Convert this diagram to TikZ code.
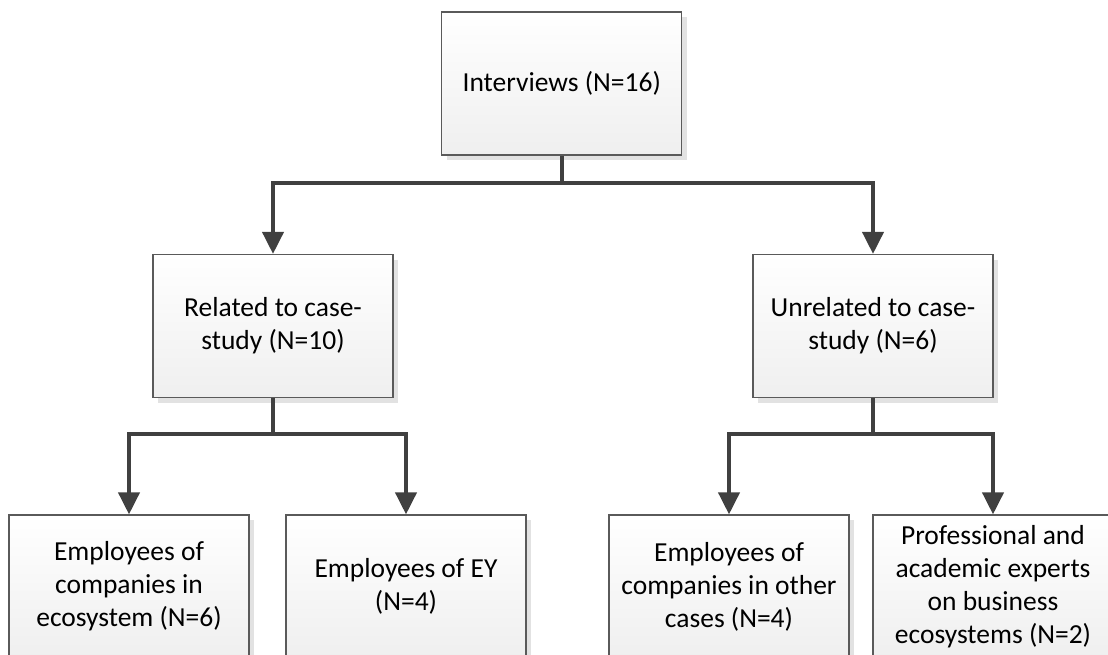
\documentclass[tikz,border=0pt]{standalone}
\usepackage{fontspec}
\setmainfont{Carlito}
\usetikzlibrary{arrows.meta,shadows}
\definecolor{boxline}{HTML}{5A5A5A}
\definecolor{connline}{HTML}{404040}
\definecolor{boxshadow}{HTML}{E2E2E2}
\definecolor{boxbottom}{HTML}{EFEFEF}
\tikzset{
  box/.style={rectangle, draw=boxline, line width=1.2pt,
    top color=white, bottom color=boxbottom,
    minimum width=240pt, minimum height=143pt, inner sep=0pt,
    align=center, font=\fontsize{27.5}{33}\selectfont,
    general shadow={fill=boxshadow, shadow xshift=5pt, shadow yshift=-5pt}},
  conn/.style={draw=connline, line width=4pt,
    -{Triangle[width=21pt,length=22pt]}},
}
\begin{document}
\begin{tikzpicture}[x=1pt,y=-1pt]
  \useasboundingbox (0,0) rectangle (1108,655);
  \clip (0,0) rectangle (1108,655);
  % boxes
  \node[box] (top)   at (561.7,83.5) {Interviews (N=16)};
  \node[box] (rel)   at (273,326)    {Related to case-\\study (N=10)};
  \node[box] (unrel) at (873,326)    {Unrelated to case-\\study (N=6)};
  \node[box] (b1)    at (129,586.5)  {Employees of\\companies in\\ecosystem (N=6)};
  \node[box] (b2)    at (406,586.5)  {Employees of EY\\(N=4)};
  \node[box] (b3)    at (729,586.5)  {Employees of\\companies in other\\cases (N=4)};
  \node[box] (b4)    at (993,586.5)  {Professional and\\academic experts\\on business\\ecosystems (N=2)};
  % junction points of the elbow connectors
  \coordinate (j0) at (561.7,183);
  \coordinate (j1) at (273,434);
  \coordinate (j2) at (873,434);
  % connectors
  \draw[conn] (top.south) -- (j0) -| (rel.north);
  \draw[conn] (j0) -| (unrel.north);
  \draw[conn] (rel.south) -- (j1) -| (b1.north);
  \draw[conn] (j1) -| (b2.north);
  \draw[conn] (unrel.south) -- (j2) -| (b3.north);
  \draw[conn] (j2) -| (b4.north);
\end{tikzpicture}
\end{document}
